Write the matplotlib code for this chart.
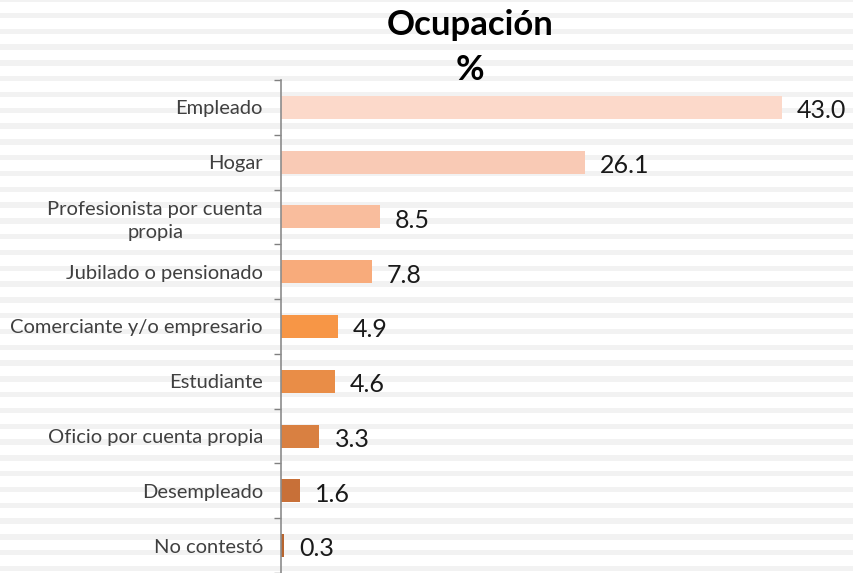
import matplotlib

matplotlib.use("Agg")
import matplotlib.pyplot as plt
import numpy as np

categories = [
    "Empleado",
    "Hogar",
    "Profesionista por cuenta\npropia",
    "Jubilado o pensionado",
    "Comerciante y/o empresario",
    "Estudiante",
    "Oficio por cuenta propia",
    "Desempleado",
    "No contestó",
]
values = [43.0, 26.1, 8.5, 7.8, 4.9, 4.6, 3.3, 1.6, 0.3]
colors = [
    "#fcd9ca", "#f9cab5", "#f9bd9d", "#f8ab7b", "#f79646",
    "#e98d47", "#d98041", "#c87038", "#b8652f",
]

W, H = 854, 573
fig = plt.figure(figsize=(W / 100, H / 100), dpi=100)
plt.rcParams["font.family"] = ["Lato", "DejaVu Sans"]

# striped background
bg = fig.add_axes([0, 0, 1, 1], zorder=0)
bg.set_xlim(0, W)
bg.set_ylim(H, 0)
bg.axis("off")
for y0 in np.arange(-3.0, H, 15.8):
    bg.axhspan(y0, y0 + 5.3, color="#f2f2f2", lw=0)

ax = fig.add_axes([281 / W, 0, 1 - 281 / W, 1 - 80 / H], zorder=1)
ax.patch.set_alpha(0)
pos = np.arange(len(categories))
ax.barh(pos, values, height=0.42, color=colors)
ax.set_xlim(0, (W - 281) / 11.65)
ax.set_ylim(len(categories) - 0.5, -0.5)

for p, v in zip(pos, values):
    ax.text(v + 1.3, p + 0.06, f"{v:.1f}", va="center", ha="left",
            fontsize=18, color="#1a1a1a")

ax.set_yticks(pos)
ax.set_yticklabels(categories, fontsize=14.5, color="#404040",
                   multialignment="center", linespacing=1.4)
ax.set_yticks(np.arange(-0.5, len(categories), 1.0), minor=True)
ax.tick_params(axis="y", which="major", length=0, pad=13)
ax.tick_params(axis="y", which="minor", length=5, color="#808080", width=1)
ax.set_xticks([])
for s in ["top", "right", "bottom"]:
    ax.spines[s].set_visible(False)
ax.spines["left"].set_color("#8c8c8c")
ax.spines["left"].set_linewidth(1.2)

fig.text(470 / W, 1 - 25 / H, "Ocupación", ha="center", va="center",
         fontsize=25, fontweight="bold", color="black")
fig.text(470 / W, 1 - 70 / H, "%", ha="center", va="center",
         fontsize=25, fontweight="bold", color="black")

fig.savefig("out.png", dpi=100)
